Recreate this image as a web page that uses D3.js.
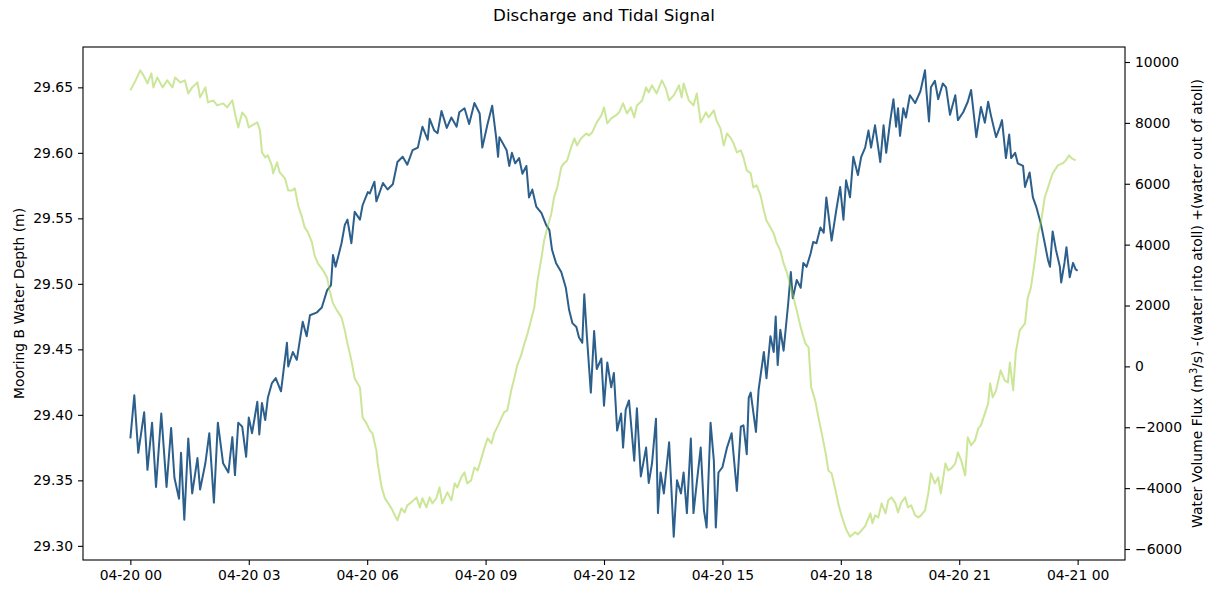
<!DOCTYPE html>
<html>
<head>
<meta charset="utf-8">
<script src="https://cdn.jsdelivr.net/npm/d3@7"></script>
<style>
  body { margin: 0; background: #fff; }
  text { font-family: "DejaVu Sans", sans-serif; fill: #000; }
</style>
</head>
<body>
<div id="chart"></div>
<script>
// minutes after 04-20 00:00 and water depth (m)
const depthMin = [0,6,12,21,26,33,39,47,55,62,67,74,77,82,88,94,102,106,114,120,127,133,141,149,155,159,164,170,176,180,185,193,196,200,205,209,215,221,229,238,240,247,253,262,268,273,283,291,299,305,308,312,321,326,330,336,341,349,353,361,364,371,374,384,391,399,406,414,421,429,437,444,452,455,462,467,473,481,488,496,500,508,515,523,531,535,543,550,556,559,561,572,576,580,585,591,596,602,606,611,617,625,632,637,641,647,655,662,667,672,678,682,687,690,694,700,705,709,716,720,725,731,735,740,746,749,753,758,766,770,776,784,788,793,799,802,806,811,819,826,831,837,841,846,852,856,861,867,872,876,882,887,890,894,900,907,914,922,928,932,937,940,943,951,955,963,967,973,978,981,984,988,993,1000,1004,1007,1013,1019,1023,1028,1034,1038,1043,1049,1054,1058,1066,1073,1079,1084,1088,1094,1099,1106,1111,1117,1122,1126,1132,1140,1145,1149,1155,1160,1164,1167,1170,1175,1179,1185,1193,1201,1208,1210,1214,1217,1223,1228,1235,1240,1246,1254,1258,1266,1273,1278,1286,1293,1299,1304,1308,1316,1322,1325,1331,1336,1339,1345,1349,1357,1360,1367,1372,1377,1384,1390,1395,1398,1402,1407,1413,1415,1420,1423,1428,1433,1437,1440];
const depthVal = [29.382,29.415,29.371,29.402,29.358,29.394,29.345,29.401,29.345,29.390,29.352,29.336,29.371,29.320,29.382,29.340,29.367,29.343,29.363,29.386,29.333,29.394,29.363,29.356,29.383,29.354,29.394,29.391,29.368,29.398,29.386,29.410,29.385,29.409,29.396,29.413,29.424,29.428,29.418,29.455,29.437,29.448,29.442,29.471,29.460,29.476,29.478,29.482,29.495,29.499,29.522,29.513,29.531,29.545,29.549,29.531,29.555,29.549,29.560,29.570,29.569,29.578,29.563,29.577,29.572,29.576,29.593,29.597,29.591,29.602,29.604,29.620,29.610,29.626,29.617,29.615,29.632,29.619,29.627,29.620,29.631,29.634,29.622,29.638,29.630,29.604,29.622,29.636,29.612,29.597,29.612,29.602,29.590,29.600,29.592,29.596,29.584,29.590,29.566,29.572,29.559,29.554,29.545,29.541,29.526,29.516,29.509,29.497,29.480,29.470,29.467,29.459,29.455,29.492,29.460,29.417,29.464,29.435,29.443,29.407,29.440,29.421,29.432,29.388,29.401,29.375,29.404,29.411,29.365,29.405,29.353,29.375,29.348,29.363,29.397,29.325,29.356,29.340,29.379,29.307,29.350,29.340,29.356,29.325,29.382,29.325,29.348,29.375,29.327,29.314,29.394,29.365,29.314,29.356,29.360,29.375,29.386,29.342,29.391,29.392,29.370,29.413,29.417,29.387,29.419,29.448,29.428,29.460,29.448,29.475,29.438,29.465,29.449,29.485,29.509,29.489,29.503,29.497,29.516,29.513,29.523,29.532,29.531,29.543,29.539,29.566,29.533,29.556,29.574,29.549,29.579,29.566,29.597,29.583,29.597,29.604,29.617,29.604,29.621,29.593,29.621,29.600,29.624,29.641,29.620,29.634,29.613,29.634,29.627,29.644,29.638,29.647,29.663,29.648,29.624,29.650,29.655,29.641,29.653,29.650,29.629,29.644,29.625,29.631,29.639,29.648,29.612,29.635,29.623,29.639,29.629,29.612,29.620,29.625,29.596,29.614,29.596,29.600,29.592,29.590,29.574,29.585,29.566,29.559,29.546,29.531,29.518,29.513,29.540,29.526,29.513,29.501,29.516,29.528,29.505,29.516,29.511,29.510];

// minutes after 04-20 00:00 and water volume flux (m3/s)
const fluxMin = [0,8,15,20,26,32,35,41,49,56,64,68,76,83,88,94,102,106,114,118,126,132,141,147,155,159,164,170,176,180,185,193,197,200,205,209,215,217,223,227,235,240,246,250,255,261,265,270,276,280,285,293,299,303,308,314,321,326,330,336,341,349,353,359,364,368,374,376,382,387,391,397,402,406,412,417,421,427,435,440,444,450,455,459,465,470,474,482,488,493,497,503,508,512,518,523,528,534,538,543,549,553,559,568,573,579,584,588,594,599,603,609,614,619,625,629,634,640,644,649,655,659,664,670,675,679,685,693,697,702,709,716,720,725,731,738,743,749,755,761,766,770,778,784,788,793,800,808,814,819,826,834,838,841,849,856,861,867,875,879,887,891,897,902,907,913,917,922,928,932,937,943,947,952,958,963,967,973,978,982,988,993,998,1004,1008,1013,1019,1026,1031,1035,1041,1046,1051,1057,1061,1066,1072,1076,1081,1088,1094,1102,1106,1111,1117,1125,1128,1132,1137,1142,1148,1152,1157,1163,1167,1172,1178,1182,1187,1193,1198,1202,1208,1213,1217,1223,1228,1232,1239,1243,1248,1254,1258,1263,1269,1273,1278,1284,1289,1293,1299,1304,1307,1311,1316,1323,1329,1334,1337,1342,1346,1352,1360,1364,1369,1375,1380,1384,1390,1395,1402,1410,1417,1422,1427,1431,1437];
const fluxVal = [9067,9396,9727,9560,9297,9626,9166,9494,9166,9396,9166,9494,9330,9396,8968,9166,9330,8837,9166,8673,8738,8574,8640,8508,8738,8311,7851,8344,8180,7851,7917,8016,7753,7030,6866,6932,6603,6340,6702,6373,6176,5782,5782,5848,5289,4895,4566,4402,4074,3646,3384,3154,2924,2497,2070,1840,1610,1183,756,197,-394,-690,-1675,-1873,-2102,-2201,-2760,-3187,-3975,-4336,-4468,-4665,-4895,-5059,-4665,-4796,-4566,-4468,-4304,-4632,-4336,-4632,-4304,-4501,-4336,-3975,-4501,-4139,-4402,-3844,-3975,-3646,-3482,-3844,-3745,-3318,-3417,-2989,-2694,-2365,-2530,-2201,-1938,-1511,-1445,-788,-361,33,361,756,1018,1511,1938,2825,3581,4139,4566,5026,5552,5880,6537,6669,6767,7194,7490,7260,7490,7654,7589,7687,8016,8246,8508,7983,8147,8246,8344,8640,8311,8508,8180,8574,8738,9166,9001,9231,8968,9396,9132,8738,8903,9231,8837,9297,8738,8574,8968,8016,8344,8180,8410,8081,7819,7260,7654,7490,7326,7030,7096,6866,6439,6340,5880,5946,5618,5125,4796,4566,4369,4074,3811,3384,3088,2595,2267,1840,1281,756,624,-690,-1117,-1675,-2201,-2858,-3417,-3515,-4074,-4501,-4895,-5350,-5595,-5450,-5520,-5400,-5250,-4829,-5158,-4895,-4961,-4501,-4829,-4402,-4304,-4501,-4796,-4468,-4304,-4632,-4566,-4895,-4961,-4895,-4731,-4172,-3515,-3844,-3646,-4172,-3187,-3417,-3351,-3187,-2825,-3088,-3581,-2332,-2595,-2431,-2037,-1938,-1544,-1215,-558,-1018,-788,-131,-460,-526,131,-788,460,1183,1413,2234,2595,3482,4369,4698,5552,5880,6340,6603,6669,6767,6932,6833,6767];

const depthTicks = [29.30, 29.35, 29.40, 29.45, 29.50, 29.55, 29.60, 29.65];
const fluxTicks = [-6000, -4000, -2000, 0, 2000, 4000, 6000, 8000, 10000];

const start = Date.UTC(2019, 3, 20, 0, 0);
const toDate = m => new Date(start + m * 60000);

const depthData = depthMin.map((m, i) => ({ t: toDate(m), v: depthVal[i] }));
const fluxData = fluxMin.map((m, i) => ({ t: toDate(m), v: fluxVal[i] }));

const W = 1210, H = 590;
const plotL = 83, plotR = 1125, plotT = 47, plotB = 560;

const svg = d3.select('#chart').append('svg')
  .attr('width', W)
  .attr('height', H);

svg.append('rect').attr('width', W).attr('height', H).attr('fill', '#fff');

// 5% padding like matplotlib autoscale
const hr = 3600000;
const x = d3.scaleUtc()
  .domain([new Date(start - 1.2 * hr), new Date(start + 25.2 * hr)])
  .range([plotL, plotR]);

const dExt = d3.extent(depthVal);
const dPad = (dExt[1] - dExt[0]) * 0.05;
const yL = d3.scaleLinear()
  .domain([dExt[0] - dPad, dExt[1] + dPad])
  .range([plotB, plotT]);

const fExt = d3.extent(fluxVal);
const fPad = (fExt[1] - fExt[0]) * 0.05;
const yR = d3.scaleLinear()
  .domain([fExt[0] - fPad, fExt[1] + fPad])
  .range([plotB, plotT]);

const fontSize = 13.9;

const styleAxis = g => {
  g.select('.domain').remove();
  g.selectAll('.tick line').attr('stroke', '#000').attr('stroke-width', 1.1);
  g.selectAll('.tick text')
    .style('font-family', '"DejaVu Sans", sans-serif')
    .style('font-size', fontSize + 'px')
    .attr('fill', '#000');
};

svg.append('g')
  .attr('transform', `translate(0,${plotB})`)
  .call(d3.axisBottom(x)
    .ticks(d3.utcHour.every(3))
    .tickFormat(d3.utcFormat('%m-%d %H'))
    .tickSize(5).tickPadding(5))
  .call(styleAxis);

svg.append('g')
  .attr('transform', `translate(${plotL},0)`)
  .call(d3.axisLeft(yL).tickValues(depthTicks).tickFormat(d3.format('.2f')).tickSize(5).tickPadding(5))
  .call(styleAxis);

svg.append('g')
  .attr('transform', `translate(${plotR},0)`)
  .call(d3.axisRight(yR).tickValues(fluxTicks).tickFormat(d => d < 0 ? '\u2212' + Math.abs(d) : d).tickSize(5).tickPadding(5))
  .call(styleAxis);

svg.append('clipPath').attr('id', 'plot-clip')
  .append('rect')
  .attr('x', plotL).attr('y', plotT)
  .attr('width', plotR - plotL).attr('height', plotB - plotT);

const depthLine = d3.line().x(d => x(d.t)).y(d => yL(d.v));
const fluxLine = d3.line().x(d => x(d.t)).y(d => yR(d.v));

svg.append('path')
  .datum(depthData)
  .attr('clip-path', 'url(#plot-clip)')
  .attr('fill', 'none')
  .attr('stroke', '#2c5f8b')
  .attr('stroke-width', 2)
  .attr('stroke-linejoin', 'round')
  .attr('d', depthLine);

svg.append('path')
  .datum(fluxData)
  .attr('clip-path', 'url(#plot-clip)')
  .attr('fill', 'none')
  .attr('stroke', '#9acd32')
  .attr('stroke-opacity', 0.5)
  .attr('stroke-width', 2)
  .attr('stroke-linejoin', 'round')
  .attr('d', fluxLine);

// frame
svg.append('rect')
  .attr('x', plotL).attr('y', plotT)
  .attr('width', plotR - plotL).attr('height', plotB - plotT)
  .attr('fill', 'none')
  .attr('stroke', '#000')
  .attr('stroke-width', 1.1);

svg.append('text')
  .attr('x', 604).attr('y', 21)
  .attr('text-anchor', 'middle')
  .style('font-size', '16.7px')
  .text('Discharge and Tidal Signal');

const midY = (plotT + plotB) / 2;

svg.append('text')
  .attr('transform', `translate(24,${midY}) rotate(-90)`)
  .attr('text-anchor', 'middle')
  .style('font-size', fontSize + 'px')
  .text('Mooring B Water Depth (m)');

const rLabel = svg.append('text')
  .attr('transform', `translate(1202,${midY}) rotate(-90)`)
  .attr('text-anchor', 'middle')
  .style('font-size', fontSize + 'px');
rLabel.append('tspan').text('Water Volume Flux (m');
rLabel.append('tspan').attr('dy', -5).style('font-size', '9.7px').text('3');
rLabel.append('tspan').attr('dy', 5).text('/s) -(water into atoll) +(water out of atoll)');
</script>
</body>
</html>
